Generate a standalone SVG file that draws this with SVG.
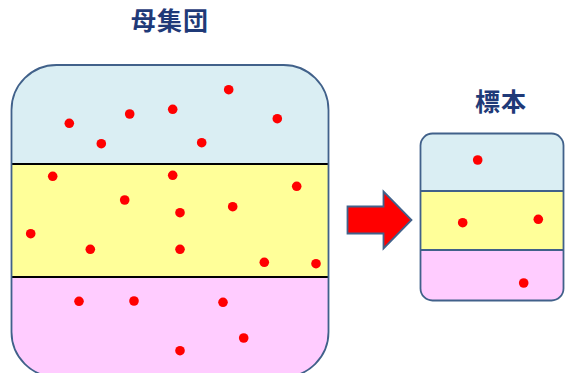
<svg xmlns="http://www.w3.org/2000/svg" width="565" height="373" viewBox="0 0 565 373">
<style>
.title{font-family:"Noto Sans CJK JP","Noto Sans CJK SC",sans-serif;font-size:25px;font-weight:bold;fill:#1f3a78;text-anchor:middle;letter-spacing:1px}
.dot{fill:#ff0000}
.blue{fill:#daeef3}
.yellow{fill:#ffff99}
.pink{fill:#ffccff}
.frame{fill:none;stroke:#41618a;stroke-width:1.8}
.sep{stroke:#000;stroke-width:2}
.sep2{stroke:#41618a;stroke-width:1.8}
</style>
<defs>
<clipPath id="cpBig"><rect x="11.5" y="65" width="317" height="312" rx="45" ry="45"/></clipPath>
<clipPath id="cpSmall"><rect x="420.5" y="133.5" width="143" height="167" rx="12" ry="12"/></clipPath>
</defs>
<rect width="565" height="373" fill="#fff"/>
<g id="population">
<g clip-path="url(#cpBig)">
<rect class="blue" x="0" y="60" width="340" height="104"/>
<rect class="yellow" x="0" y="164" width="340" height="113"/>
<rect class="pink" x="0" y="277" width="340" height="110"/>
</g>
<line class="sep" x1="11.5" y1="164" x2="328.5" y2="164"/>
<line class="sep" x1="11.5" y1="277" x2="328.5" y2="277"/>
<rect class="frame" x="11.5" y="65" width="317" height="312" rx="45" ry="45"/>
<g>
<circle class="dot" cx="69.3" cy="123.3" r="4.8"/>
<circle class="dot" cx="129.7" cy="114" r="4.8"/>
<circle class="dot" cx="172.7" cy="109.3" r="4.8"/>
<circle class="dot" cx="228.7" cy="89.7" r="4.8"/>
<circle class="dot" cx="277.3" cy="118.7" r="4.8"/>
<circle class="dot" cx="101.3" cy="143.7" r="4.8"/>
<circle class="dot" cx="201.7" cy="142.7" r="4.8"/>
<circle class="dot" cx="52.7" cy="176.3" r="4.8"/>
<circle class="dot" cx="172.7" cy="175.3" r="4.8"/>
<circle class="dot" cx="296.7" cy="186.3" r="4.8"/>
<circle class="dot" cx="124.7" cy="200" r="4.8"/>
<circle class="dot" cx="180" cy="212.7" r="4.8"/>
<circle class="dot" cx="232.7" cy="206.7" r="4.8"/>
<circle class="dot" cx="30.7" cy="233.7" r="4.8"/>
<circle class="dot" cx="90.3" cy="249.3" r="4.8"/>
<circle class="dot" cx="180" cy="249.3" r="4.8"/>
<circle class="dot" cx="264.3" cy="262.3" r="4.8"/>
<circle class="dot" cx="316" cy="263.7" r="4.8"/>
<circle class="dot" cx="79" cy="301.3" r="4.8"/>
<circle class="dot" cx="134" cy="301" r="4.8"/>
<circle class="dot" cx="223" cy="302.3" r="4.8"/>
<circle class="dot" cx="243.7" cy="338" r="4.8"/>
<circle class="dot" cx="180" cy="350.7" r="4.8"/>
</g>
<text class="title" x="170" y="30">母集団</text>
</g>
<g id="sample">
<g clip-path="url(#cpSmall)">
<rect class="blue" x="415" y="130" width="155" height="61"/>
<rect class="yellow" x="415" y="191" width="155" height="59"/>
<rect class="pink" x="415" y="250" width="155" height="55"/>
</g>
<line class="sep2" x1="420.5" y1="191" x2="563.5" y2="191"/>
<line class="sep2" x1="420.5" y1="250" x2="563.5" y2="250"/>
<rect class="frame" x="420.5" y="133.5" width="143" height="167" rx="12" ry="12"/>
<circle class="dot" cx="477.7" cy="160" r="4.8"/>
<circle class="dot" cx="462.7" cy="222.7" r="4.8"/>
<circle class="dot" cx="538.3" cy="219.3" r="4.8"/>
<circle class="dot" cx="523.7" cy="283" r="4.8"/>
<text class="title" x="501" y="111">標本</text>
</g>
<g id="connectors">
<path d="M347.5,206.5 L383.5,206.5 L383.5,191.5 L411.5,220 L383.5,248.5 L383.5,233.5 L347.5,233.5 Z" fill="#ff0000" stroke="#41618a" stroke-width="1.8" stroke-linejoin="miter"/>
</g>
</svg>
